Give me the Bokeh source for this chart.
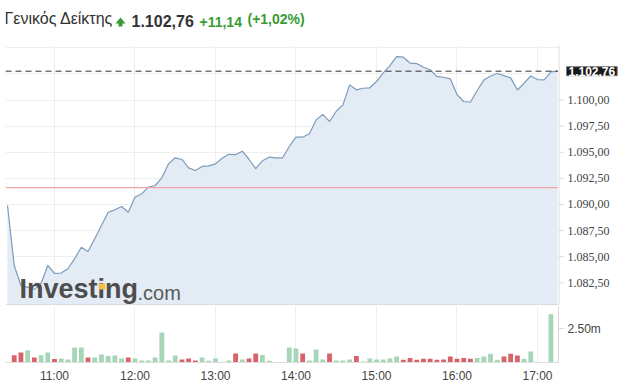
from bokeh.plotting import figure
from bokeh.layouts import column, row
from bokeh.models import (Range1d, FixedTicker, CustomJSTickFormatter, Span, Label,
                          BoxAnnotation, PolyAnnotation, ColumnDataSource)
from bokeh.embed import file_html
from bokeh.resources import INLINE

# ---------------- data ----------------
TITLE_NAME = "Γενικός Δείκτης"
LAST_TEXT = "1.102,76"
CHANGE_TEXT = "+11,14"
PCT_TEXT = "(+1,02%)"
LAST_PRICE = 1102.76
PREV_CLOSE = 1091.62

START_MIN = 10 * 60 + 25   # first point 10:25
STEP_MIN = 5               # 5-minute bars

price = [
    1089.90, 1084.16, 1082.25, 1082.06, 1081.87, 1082.44, 1084.16, 1083.40, 1083.43, 1083.85,
    1084.80, 1085.91, 1085.50, 1086.72, 1087.99, 1089.26, 1089.49, 1089.81, 1089.26, 1090.70,
    1091.02, 1091.66, 1091.82, 1092.54, 1093.89, 1094.47, 1094.31, 1093.51, 1093.25, 1093.64,
    1093.70, 1093.89, 1094.42, 1094.80, 1094.77, 1095.10, 1094.33, 1093.44, 1094.18, 1094.53,
    1094.47, 1094.47, 1095.55, 1096.44, 1096.44, 1096.77, 1098.09, 1098.63, 1097.94, 1098.93,
    1099.54, 1101.45, 1100.98, 1101.13, 1101.17, 1101.77, 1102.60, 1103.30, 1104.16, 1104.10,
    1103.54, 1103.49, 1103.14, 1102.90, 1102.27, 1102.18, 1102.03, 1100.53, 1099.86, 1099.79,
    1100.91, 1101.91, 1102.30, 1102.54, 1102.34, 1102.12, 1100.96, 1101.61, 1102.30, 1101.96,
    1101.93, 1102.70, 1102.76,
]

volume_m = [
    0.00, 0.54, 0.74, 0.91, 0.37, 0.54, 0.74, 0.25, 0.29, 0.22,
    1.10, 1.10, 0.37, 0.37, 0.59, 0.47, 0.51, 0.29, 0.37, 0.29,
    0.15, 0.15, 0.37, 2.21, 0.15, 0.51, 0.22, 0.29, 0.15, 0.37,
    0.12, 0.29, 0.05, 0.15, 0.66, 0.22, 0.29, 0.66, 0.56, 0.12,
    0.00, 0.00, 1.10, 1.03, 0.66, 0.15, 0.96, 0.22, 0.66, 0.15,
    0.15, 0.22, 0.47, 0.07, 0.29, 0.22, 0.22, 0.30, 0.44, 0.20,
    0.34, 0.20, 0.27, 0.27, 0.20, 0.22, 0.44, 0.27, 0.34, 0.27,
    0.34, 0.44, 0.64, 0.20, 0.44, 0.64, 0.51, 0.27, 0.81, 0.00,
    0.00, 3.55, 0.00,
]

direction = [
    "u", "d", "d", "u", "d", "u", "u", "d", "u", "u",
    "u", "u", "d", "u", "u", "u", "u", "u", "d", "u",
    "u", "u", "u", "u", "u", "u", "d", "d", "d", "u",
    "u", "u", "u", "u", "d", "u", "d", "d", "u", "u",
    "u", "u", "u", "u", "d", "u", "u", "u", "d", "u",
    "u", "u", "d", "u", "u", "u", "u", "u", "u", "d",
    "d", "d", "d", "d", "d", "d", "d", "d", "d", "d",
    "u", "u", "u", "u", "d", "d", "d", "u", "u", "u",
    "u", "u", "u",
]

HOUR_TICKS = [11, 12, 13, 14, 15, 16, 17]
PRICE_TICKS = [1082.5, 1085.0, 1087.5, 1090.0, 1092.5, 1095.0, 1097.5, 1100.0]
PRICE_GRID = PRICE_TICKS + [1102.5, 1105.0]
VOL_TICKS = [2.5]

# ---------------- styles ----------------
FONT = "Liberation Sans"
GREEN_TXT = "#3a9b35"
LINE_COL = "#7d9cba"
FILL_COL = "#e3ebf4"
UP_COL = "#a6d6b8"
DOWN_COL = "#d8636a"
GRID_COL = "#eeeeee"
AXIS_TXT = "#444444"
AXIS_LINE = "#d8d8d8"

W = 625
FRAME_R = 558
STRIP_W = W - FRAME_R
X0, X1 = 623.5, 1035.65
PY0, PY1 = 1080.33, 1105.22


def greek_num(v):
    s = f"{v:,.2f}"
    return s.replace(",", "X").replace(".", ",").replace("X", ".")


t = [START_MIN + STEP_MIN * i for i in range(len(price))]
hour_ticks_min = [h * 60 for h in HOUR_TICKS]

src = ColumnDataSource(dict(t=t, price=price, vol=volume_m,
                            col=[UP_COL if d == "u" else DOWN_COL for d in direction]))

vol_fmt = CustomJSTickFormatter(code="return tick.toFixed(2) + 'm';")
time_fmt = CustomJSTickFormatter(code="""
const h = Math.floor(tick / 60); const m = Math.round(tick - h * 60);
return String(h).padStart(2, '0') + ':' + String(m).padStart(2, '0');
""")


def bare(fig):
    fig.outline_line_color = None
    fig.background_fill_color = "white"
    fig.border_fill_color = "white"


# ---------------- header ----------------
h = figure(width=W, height=45, output_backend="svg", toolbar_location=None,
           x_range=Range1d(0, W), y_range=Range1d(0, 45),
           x_axis_location=None, y_axis_location=None,
           min_border_left=0, min_border_right=0, min_border_top=0, min_border_bottom=0)
bare(h)
h.grid.visible = False
TB = 19   # baseline, measured up from the bottom of the header
DX = -5   # horizontal correction
h.add_layout(Label(x=4 + DX, y=TB, x_units="screen", y_units="screen", text=TITLE_NAME,
                   text_font=FONT, text_font_size="16px", text_color="#333333"))
# green up arrow (head + stem)
h.add_layout(PolyAnnotation(xs=[115 + DX, 125 + DX, 120 + DX], ys=[22, 22, 28],
                            xs_units="screen", ys_units="screen",
                            fill_color=GREEN_TXT, fill_alpha=1, line_color=None))
h.add_layout(BoxAnnotation(left=118 + DX, right=122 + DX, bottom=TB, top=22.5,
                           left_units="screen", right_units="screen",
                           bottom_units="screen", top_units="screen",
                           fill_color=GREEN_TXT, fill_alpha=1, line_color=None))
h.add_layout(Label(x=131 + DX, y=TB, x_units="screen", y_units="screen", text=LAST_TEXT,
                   text_font=FONT, text_font_style="bold", text_font_size="16px",
                   text_color="#333333"))
h.add_layout(Label(x=199 + DX, y=TB, x_units="screen", y_units="screen", text=CHANGE_TEXT,
                   text_font=FONT, text_font_style="bold", text_font_size="14px",
                   text_color=GREEN_TXT))
h.add_layout(Label(x=247 + DX, y=TB, x_units="screen", y_units="screen", text=PCT_TEXT,
                   text_font=FONT, text_font_style="bold", text_font_size="14px",
                   text_color=GREEN_TXT))

# ---------------- price panel ----------------
yr = Range1d(PY0, PY1)
p = figure(width=FRAME_R, height=260, output_backend="svg", toolbar_location=None,
           x_range=Range1d(X0, X1), y_range=yr,
           x_axis_location=None, y_axis_location=None,
           min_border_left=5, min_border_right=0, min_border_top=0, min_border_bottom=0)
bare(p)

p.varea(x="t", y1=PY0, y2="price", source=src, fill_color=FILL_COL)
p.line(x="t", y="price", source=src, line_color=LINE_COL, line_width=1.2)

p.ygrid.ticker = FixedTicker(ticks=PRICE_GRID)
p.ygrid.grid_line_color = GRID_COL
p.xgrid.ticker = FixedTicker(ticks=hour_ticks_min)
p.xgrid.grid_line_color = GRID_COL

p.add_layout(Span(location=PREV_CLOSE, dimension="width", line_color="#f0a6a6",
                  line_width=1.2))
p.add_layout(Span(location=LAST_PRICE, dimension="width", line_color="#333333",
                  line_width=1, line_dash="6 4"))
p.add_layout(Span(location=PY0 + 0.05, dimension="width", line_color="#cccccc", line_width=1))

# watermark
p.add_layout(Label(x=14, y=2, x_units="screen", y_units="screen", text="Investing",
                   text_font=FONT, text_font_style="bold", text_font_size="27px",
                   text_color="#4d4d4d"))
p.add_layout(BoxAnnotation(left=93, right=100, bottom=16, top=22,
                           left_units="screen", right_units="screen",
                           bottom_units="screen", top_units="screen",
                           fill_color="#f0c24e", fill_alpha=1, line_color=None))
p.add_layout(Label(x=132, y=2, x_units="screen", y_units="screen", text=".com",
                   text_font=FONT, text_font_size="20px", text_color="#5a5a5a"))

# ---------------- price scale strip (right) ----------------
s = figure(width=STRIP_W, height=260, output_backend="svg", toolbar_location=None,
           x_range=Range1d(0, STRIP_W), y_range=yr,
           x_axis_location=None, y_axis_location=None,
           min_border_left=0, min_border_right=0, min_border_top=0, min_border_bottom=0)
bare(s)
s.grid.visible = False
s.segment(x0=[0.5], y0=[PY0], x1=[0.5], y1=[PY1], line_color=AXIS_LINE, line_width=1)
s.segment(x0=[0] * len(PRICE_TICKS), y0=PRICE_TICKS, x1=[5] * len(PRICE_TICKS),
          y1=PRICE_TICKS, line_color=AXIS_LINE, line_width=1)
s.text(x=[9] * len(PRICE_TICKS), y=PRICE_TICKS, text=[greek_num(v) for v in PRICE_TICKS],
       text_font="Liberation Sans", text_font_size="12px", text_color=AXIS_TXT,
       text_baseline="middle", text_align="left")
s.add_layout(Label(x=8, y=LAST_PRICE, text=greek_num(LAST_PRICE),
                   text_font=FONT, text_font_style="bold", text_font_size="12px",
                   text_color="white", text_baseline="middle", text_align="left",
                   background_fill_color="#1a1a1a", border_line_color="#777777",
                   padding=(2, 0)))

# ---------------- volume panel ----------------
v = figure(width=W, height=82, output_backend="svg", toolbar_location=None,
           x_range=p.x_range, y_range=Range1d(0, 4.12),
           y_axis_location="right",
           min_border_left=5, min_border_right=STRIP_W, min_border_top=1, min_border_bottom=25)
bare(v)

v.vbar(x="t", top="vol", width=STEP_MIN * 0.72, source=src, fill_color="col", line_color=None)

v.yaxis.ticker = FixedTicker(ticks=VOL_TICKS)
v.yaxis.formatter = vol_fmt
v.yaxis.major_label_text_font = FONT
v.yaxis.major_label_text_font_size = "12px"
v.yaxis.major_label_text_color = AXIS_TXT
v.yaxis.axis_line_color = AXIS_LINE
v.yaxis.major_tick_line_color = AXIS_LINE
v.yaxis.major_tick_in = 0
v.yaxis.major_tick_out = 5
v.yaxis.minor_tick_line_color = None
v.yaxis.major_label_standoff = 4

v.xaxis.ticker = FixedTicker(ticks=hour_ticks_min)
v.xaxis.formatter = time_fmt
v.xaxis.major_label_text_font = FONT
v.xaxis.major_label_text_font_size = "12px"
v.xaxis.major_label_text_color = AXIS_TXT
v.xaxis.axis_line_color = "#dddddd"
v.xaxis.major_tick_line_color = None
v.xaxis.minor_tick_line_color = None
v.xaxis.major_tick_out = 0
v.xaxis.major_tick_in = 0
v.xaxis.major_label_standoff = 6

v.ygrid.grid_line_color = None
v.xgrid.ticker = FixedTicker(ticks=hour_ticks_min)
v.xgrid.grid_line_color = GRID_COL

layout = column(h, row(p, s, spacing=0), v, spacing=0)
open("out.html", "w").write(file_html(layout, INLINE))
